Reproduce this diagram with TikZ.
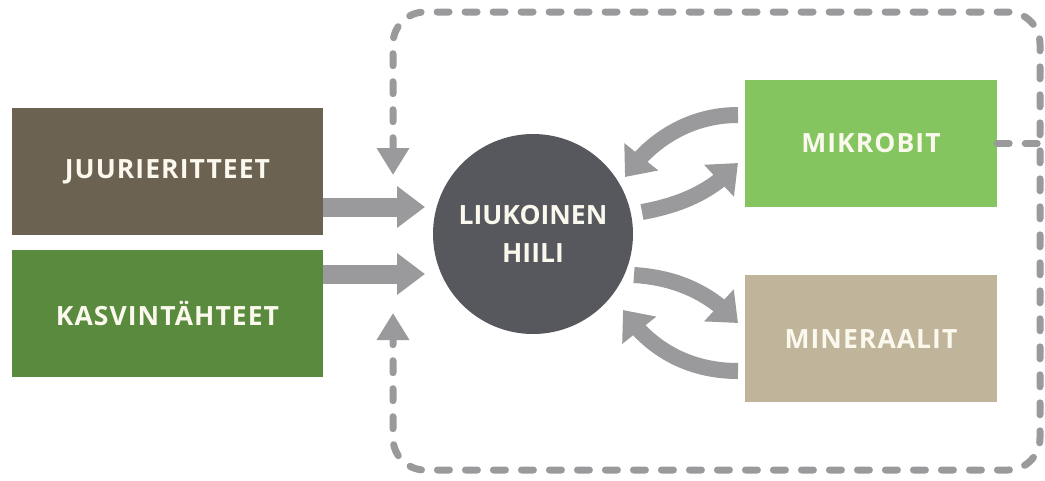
\documentclass[tikz,border=0pt]{standalone}
\usepackage{fontspec}
\setmainfont{Open Sans}
\newfontfamily\boxfont[LetterSpace=4]{Open Sans}
\usetikzlibrary{arrows.meta,bending,calc}
\definecolor{juuri}{HTML}{6B6252}
\definecolor{kasv}{HTML}{5A8A3E}
\definecolor{mikro}{HTML}{84C55F}
\definecolor{mine}{HTML}{C0B59A}
\definecolor{hiilic}{HTML}{56585D}
\definecolor{arr}{HTML}{9A9A9C}
\definecolor{txt}{HTML}{FBF8EE}
\tikzset{
  box/.style={rectangle, draw=none, text=txt, font=\boxfont\bfseries\fontsize{26.5}{30}\selectfont, inner sep=0pt},
  fat/.style={draw=arr, line width=19pt, -{Triangle[length=28pt,width=40pt]}},
  curv/.style={draw=arr, line width=16pt, -{Triangle[length=26pt,width=42pt]}},
  dl/.style={draw=arr, line width=7pt, line cap=round, dash pattern=on 12pt off 16pt},
  dtip/.style={{Triangle[length=27pt,width=31pt]}-{Triangle[length=27pt,width=31pt]}}
}
\begin{document}
\begin{tikzpicture}[x=1pt,y=-1pt]
\useasboundingbox (0,0) rectangle (1045,480);
\node[box, fill=juuri, minimum width=311pt, minimum height=127pt] (juuri) at (167.5,171.5) {JUURIERITTEET};
\node[box, fill=kasv, minimum width=311pt, minimum height=127pt] (kasv) at (167.5,313.5) {KASVINTÄHTEET};
\node[box, fill=mikro, minimum width=252pt, minimum height=127pt] (mikro) at (871,143.5) {MIKROBIT};
\node[box, fill=mine, minimum width=252pt, minimum height=127pt] (mine) at (871,338.5) {MINERAALIT};
\node[circle, fill=hiilic, minimum size=200pt, inner sep=0pt, text=txt, align=center,
      font=\bfseries\fontsize{26.5}{38}\selectfont] (hiili) at (533,234) {LIUKOINEN\\HIILI};
% straight inputs
\coordinate (t1) at (425,207);
\coordinate (t2) at (425,274);
\draw[fat] (juuri.east |- t1) -- (t1);
\draw[fat] (kasv.east |- t2) -- (t2);
% curved exchange arrows
\coordinate (m1s) at (738,115);
\coordinate (m1e) at (625,177);
\coordinate (m2s) at (642,212);
\coordinate (m2e) at (738,163);
\coordinate (n1s) at (634,275);
\coordinate (n1e) at (738,323);
\coordinate (n2s) at (738,371);
\coordinate (n2e) at (623,310);
\draw[curv] (m1s) .. controls (690,115) and (650,140) .. (m1e);
\draw[curv] (m2s) .. controls (680,205) and (712,192) .. (m2e);
\draw[curv] (n1s) .. controls (680,278) and (712,295) .. (n1e);
\draw[curv] (n2s) .. controls (690,371) and (650,350) .. (n2e);
% dashed feedback loop
\coordinate (d1) at (393,175);
\coordinate (d2) at (393,313);
\coordinate (rc) at (1040,143.5);
\draw[dl, dtip, rounded corners=32pt] (d1) -- (393,12) -- (1040,12) -- (1040,470) -- (393,470) -- (d2);
\draw[dl] (mikro.east) -- (rc);
\end{tikzpicture}
\end{document}
